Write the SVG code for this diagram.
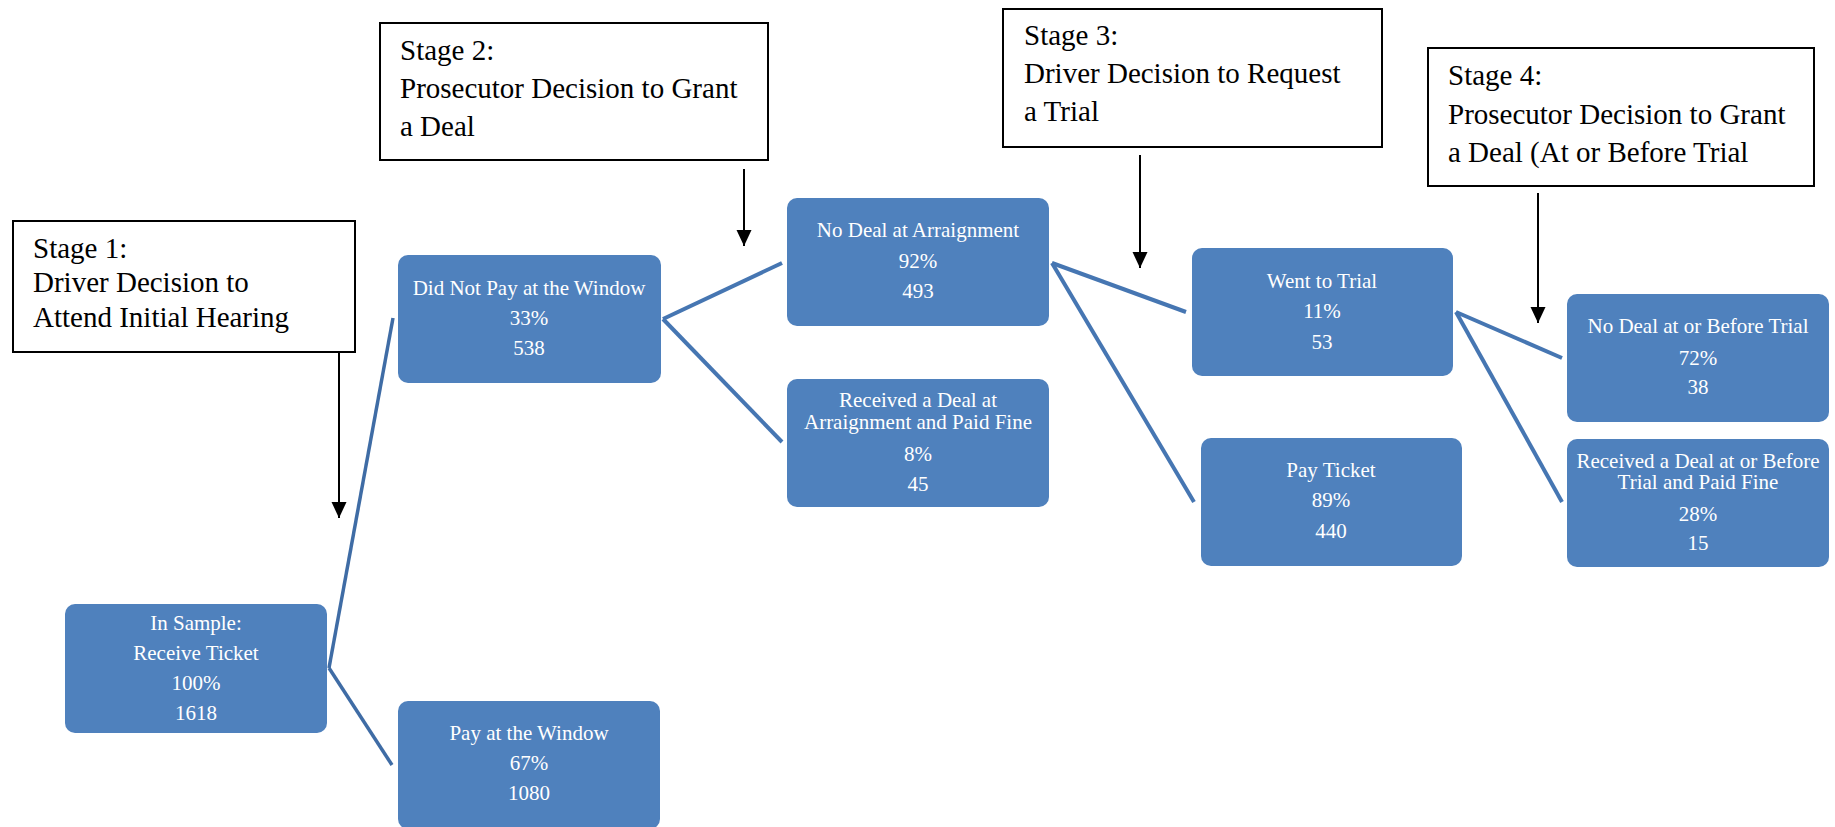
<svg xmlns="http://www.w3.org/2000/svg" width="1835" height="827" viewBox="0 0 1835 827">
<style>
.stage rect{fill:#fff;stroke:#000;stroke-width:2}
.stage text{font-family:"Liberation Serif","Times New Roman",serif;font-size:29px;fill:#000}
.node rect{fill:#4F81BD}
.node text{font-family:"Liberation Serif","Times New Roman",serif;font-size:21px;fill:#fff;text-anchor:middle}
.conn line{stroke:#4676B2;stroke-width:4;stroke-linecap:butt}
.arrow line{stroke:#000;stroke-width:2}
</style>
<defs>
<marker id="ah" markerUnits="userSpaceOnUse" markerWidth="16" markerHeight="16" refX="16" refY="7.5" orient="auto">
<path d="M0,0 L16,7.5 L0,15 z" fill="#000"/>
</marker>
</defs>
<rect width="1835" height="827" fill="#fff"/>

<g id="stage1" class="stage">
<rect x="13" y="221" width="342" height="131"/>
<text x="33" y="258">Stage 1:</text>
<text x="33" y="292">Driver Decision to</text>
<text x="33" y="327">Attend Initial Hearing</text>
</g>
<g id="stage2" class="stage">
<rect x="380" y="23" width="388" height="137"/>
<text x="400" y="60">Stage 2:</text>
<text x="400" y="98">Prosecutor Decision to Grant</text>
<text x="400" y="136">a Deal</text>
</g>
<g id="stage3" class="stage">
<rect x="1003" y="9" width="379" height="138"/>
<text x="1024" y="45">Stage 3:</text>
<text x="1024" y="83">Driver Decision to Request</text>
<text x="1024" y="121">a Trial</text>
</g>
<g id="stage4" class="stage">
<rect x="1428" y="48" width="386" height="138"/>
<text x="1448" y="85">Stage 4:</text>
<text x="1448" y="124">Prosecutor Decision to Grant</text>
<text x="1448" y="162">a Deal (At or Before Trial</text>
</g>

<g id="connectors">
<g class="arrow">
<line x1="339" y1="352" x2="339" y2="518" marker-end="url(#ah)"/>
<line x1="744" y1="169" x2="744" y2="246" marker-end="url(#ah)"/>
<line x1="1140" y1="155" x2="1140" y2="268" marker-end="url(#ah)"/>
<line x1="1538" y1="193" x2="1538" y2="323" marker-end="url(#ah)"/>
</g>
<g class="conn">
<line x1="329" y1="668" x2="393" y2="318" style="stroke:#3F6CA5;stroke-width:3.5"/>
<line x1="329" y1="668" x2="392" y2="765" style="stroke:#3F6CA5;stroke-width:3.5"/>
<line x1="663" y1="319" x2="782" y2="263"/>
<line x1="663" y1="319" x2="782" y2="442"/>
<line x1="1052" y1="263" x2="1186" y2="312"/>
<line x1="1052" y1="263" x2="1194" y2="502"/>
<line x1="1456" y1="312" x2="1562" y2="358"/>
<line x1="1456" y1="312" x2="1562" y2="502"/>
</g>
</g>

<g id="n-sample" class="node">
<rect x="65" y="604" width="262" height="129" rx="10"/>
<text x="196" y="630">In Sample:</text>
<text x="196" y="660">Receive Ticket</text>
<text x="196" y="690">100%</text>
<text x="196" y="720">1618</text>
</g>
<g id="n-didnotpay" class="node">
<rect x="398" y="255" width="263" height="128" rx="10"/>
<text x="529" y="295">Did Not Pay at the Window</text>
<text x="529" y="325">33%</text>
<text x="529" y="355">538</text>
</g>
<g id="n-paywindow" class="node">
<rect x="398" y="701" width="262" height="128" rx="10"/>
<text x="529" y="740">Pay at the Window</text>
<text x="529" y="770">67%</text>
<text x="529" y="800">1080</text>
</g>
<g id="n-nodeal" class="node">
<rect x="787" y="198" width="262" height="128" rx="10"/>
<text x="918" y="237">No Deal at Arraignment</text>
<text x="918" y="268">92%</text>
<text x="918" y="298">493</text>
</g>
<g id="n-dealarr" class="node">
<rect x="787" y="379" width="262" height="128" rx="10"/>
<text x="918" y="407">Received a Deal at</text>
<text x="918" y="429">Arraignment and Paid Fine</text>
<text x="918" y="461">8%</text>
<text x="918" y="491">45</text>
</g>
<g id="n-trial" class="node">
<rect x="1192" y="248" width="261" height="128" rx="10"/>
<text x="1322" y="288">Went to Trial</text>
<text x="1322" y="318">11%</text>
<text x="1322" y="349">53</text>
</g>
<g id="n-payticket" class="node">
<rect x="1201" y="438" width="261" height="128" rx="10"/>
<text x="1331" y="477">Pay Ticket</text>
<text x="1331" y="507">89%</text>
<text x="1331" y="538">440</text>
</g>
<g id="n-nodealtrial" class="node">
<rect x="1567" y="294" width="262" height="128" rx="10"/>
<text x="1698" y="333">No Deal at or Before Trial</text>
<text x="1698" y="365">72%</text>
<text x="1698" y="394">38</text>
</g>
<g id="n-dealtrial" class="node">
<rect x="1567" y="439" width="262" height="128" rx="10"/>
<text x="1698" y="468">Received a Deal at or Before</text>
<text x="1698" y="489">Trial and Paid Fine</text>
<text x="1698" y="521">28%</text>
<text x="1698" y="550">15</text>
</g>
</svg>
